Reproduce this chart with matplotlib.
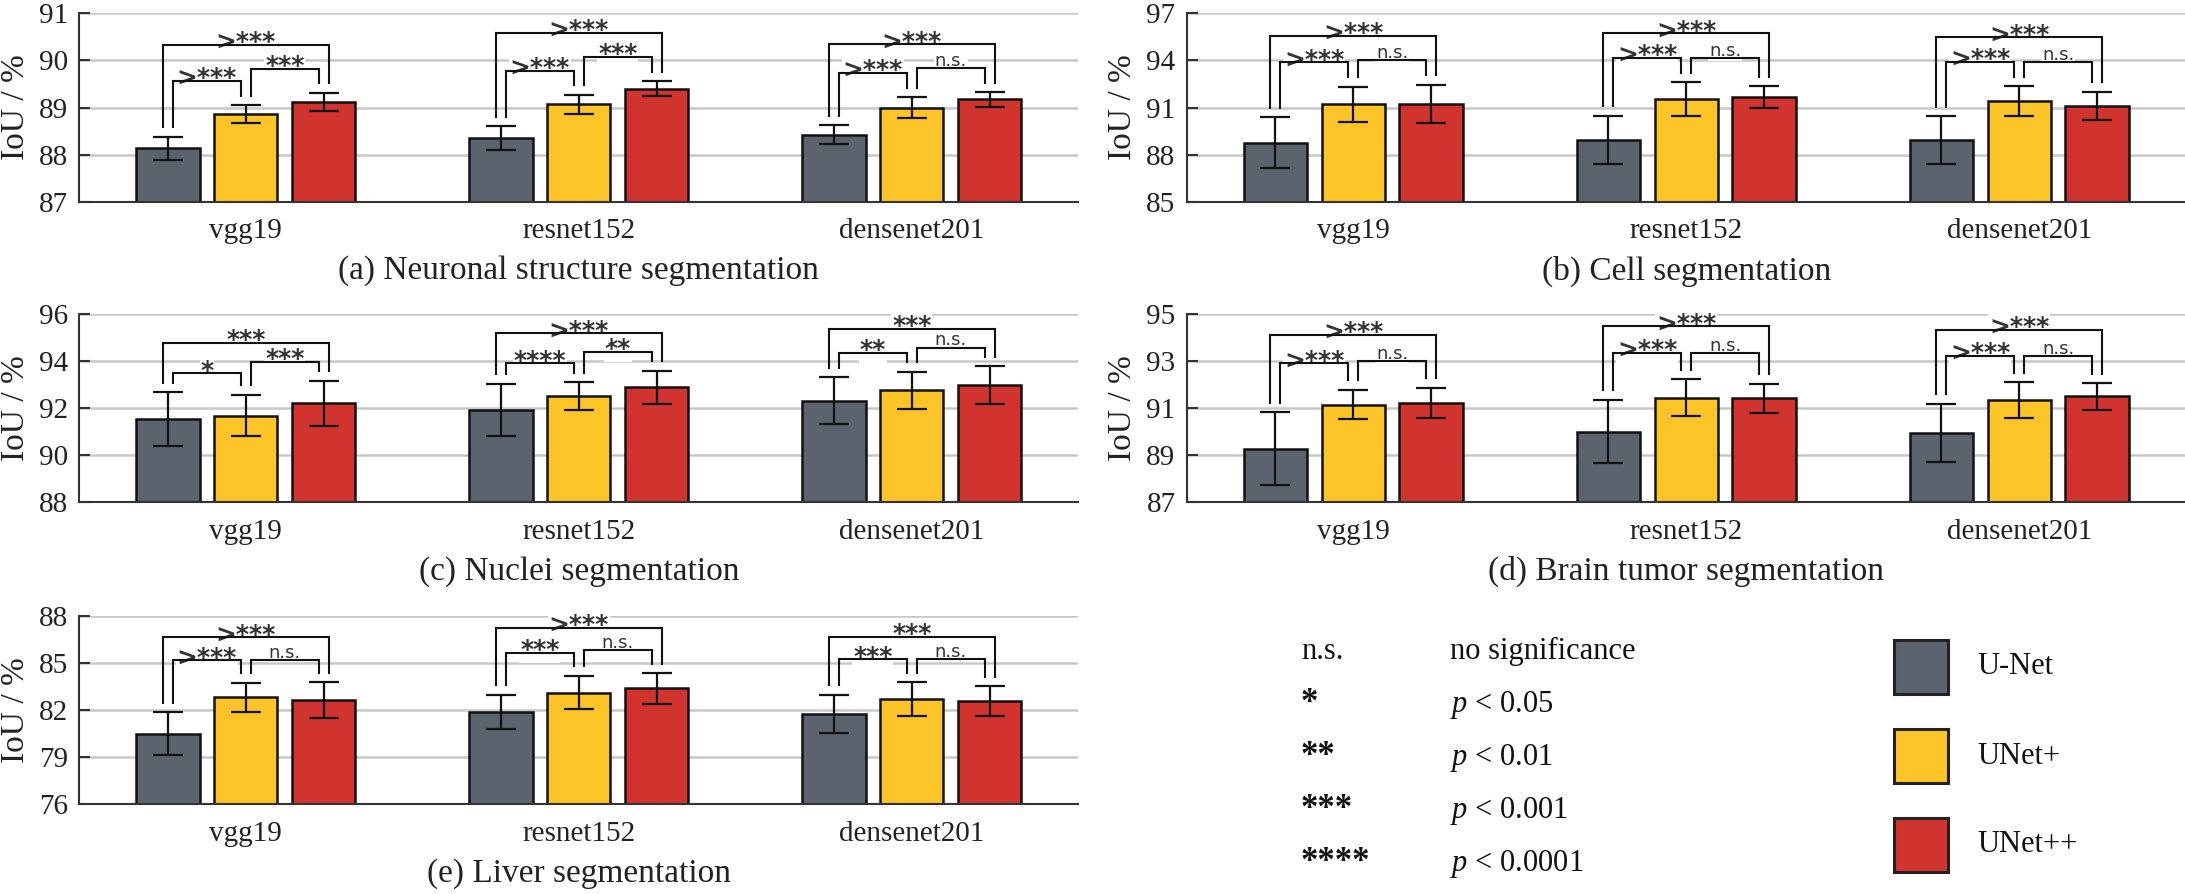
import numpy as np
import matplotlib
matplotlib.use("Agg")
from matplotlib import pyplot as plt
from matplotlib.patches import Rectangle

plt.rcParams['font.family'] = ['Liberation Serif', 'DejaVu Serif']
plt.rcParams['mathtext.fontset'] = 'custom'
plt.rcParams['mathtext.rm'] = 'Liberation Serif'
plt.rcParams['mathtext.it'] = 'Liberation Serif:italic'

backbones = ['vgg19', 'resnet152', 'densenet201']
models = ['U-Net', 'UNet+', 'UNet++']
colors = ['#5b636e', '#fcc426', '#d1342f']

# rows = backbone, columns = model (U-Net, UNet+, UNet++)
neuron_mean = [[88.13, 88.86, 89.12], [88.35, 89.07, 89.40], [88.42, 89.00, 89.17]]
neuron_std = [[0.25, 0.19, 0.19], [0.25, 0.20, 0.16], [0.20, 0.22, 0.15]]
neuron_sig = [['>***', '***', '>***'], ['>***', '***', '>***'], ['>***', 'n.s.', '>***']]

cell_mean = [[88.76, 91.20, 91.24], [88.93, 91.52, 91.65], [88.93, 91.41, 91.10]]
cell_std = [[1.62, 1.13, 1.20], [1.53, 1.08, 0.70], [1.50, 0.95, 0.90]]
cell_sig = [['>***', 'n.s.', '>***'], ['>***', 'n.s.', '>***'], ['>***', 'n.s.', '>***']]

nuclei_mean = [[91.52, 91.68, 92.21], [91.93, 92.52, 92.88], [92.31, 92.75, 92.97]]
nuclei_std = [[1.15, 0.88, 0.96], [1.10, 0.58, 0.70], [1.00, 0.80, 0.80]]
nuclei_sig = [['*', '***', '***'], ['****', '**', '>***'], ['**', 'n.s.', '***']]

brain_mean = [[89.27, 91.15, 91.22], [90.00, 91.45, 91.41], [89.95, 91.34, 91.50]]
brain_std = [[1.55, 0.63, 0.65], [1.35, 0.78, 0.62], [1.23, 0.75, 0.56]]
brain_sig = [['>***', 'n.s.', '>***'], ['>***', 'n.s.', '>***'], ['>***', 'n.s.', '>***']]

liver_mean = [[80.50, 82.81, 82.64], [81.89, 83.12, 83.38], [81.74, 82.72, 82.57]]
liver_std = [[1.38, 0.92, 1.12], [1.10, 1.07, 0.98], [1.23, 1.07, 0.96]]
liver_sig = [['>***', 'n.s.', '>***'], ['***', 'n.s.', '>***'], ['***', 'n.s.', '***']]

titles = ['(a) Neuronal structure segmentation', '(b) Cell segmentation',
          '(c) Nuclei segmentation', '(d) Brain tumor segmentation',
          '(e) Liver segmentation']
y_ranges = [(87, 91, 1), (85, 97, 3), (88, 96, 2), (87, 95, 2), (76, 88, 3)]

sig_levels = ['n.s.', '*', '**', '***', '****']
sig_meaning = ['no significance', '$p$ < 0.05', '$p$ < 0.01', '$p$ < 0.001', '$p$ < 0.0001']

FW, FH = 2185, 894


def bracket(ax, x0, x1, b0, b1, y, label):
    ax.plot([x0, x0, x1, x1], [b0, y, y, b1], color='#111111', lw=1.5, zorder=5,
            solid_capstyle='butt', solid_joinstyle='miter')
    if label == 'n.s.':
        kw = dict(fontsize=13, family='DejaVu Sans', xytext=(0, 1.5))
    else:
        kw = dict(fontsize=18, family='DejaVu Sans', fontweight='bold', xytext=(0, -3))
    ax.annotate(label, ((x0 + x1) / 2, y), textcoords='offset points', ha='center',
                va='baseline', color='#333333', zorder=4,
                bbox=dict(fc='white', ec='none', pad=0.5), **kw)


def draw_panel(ax, means, stds, sigs, yr, title, gap):
    means = np.array(means)
    stds = np.array(stds)
    x = np.arange(1, 4)
    offs = np.array([-1, 0, 1]) * 0.234
    for j in range(3):
        ax.bar(x + offs[j], means[:, j], width=0.19, color=colors[j],
               edgecolor='#111111', linewidth=1.8, zorder=2)
        ax.errorbar(x + offs[j], means[:, j], yerr=stds[:, j], fmt='none',
                    ecolor='#111111', elinewidth=1.6, capsize=11, capthick=1.6, zorder=3)

    ymin, ymax, step = yr
    span = ymax - ymin
    leg = 0.045 * span
    d = 0.015
    tops = means + stds
    for i in range(3):
        xs = x[i] + offs
        t = tops[i]
        y1 = max(t[0], t[1]) + gap * span
        y2 = max(t[1], t[2]) + gap * span
        y3 = max(y1, y2) + gap * span
        bracket(ax, xs[0] + d, xs[1] - d, t[0] + leg, t[1] + leg, y1, sigs[i][0])
        bracket(ax, xs[1] + d, xs[2] - d, t[1] + leg, t[2] + leg, y2, sigs[i][1])
        bracket(ax, xs[0] - d, xs[2] + d, t[0] + leg, t[2] + leg, y3, sigs[i][2])

    ax.set_xlim(0.5, 3.5)
    ax.set_ylim(ymin, ymax)
    ax.set_yticks(np.arange(ymin, ymax + 0.01, step))
    ax.set_xticks(x)
    ax.set_xticklabels(backbones)
    ax.yaxis.grid(True, color='#c8c8c8', linewidth=1.8)
    ax.set_axisbelow(True)
    for s in ['top', 'right']:
        ax.spines[s].set_visible(False)
    for s in ['left', 'bottom']:
        ax.spines[s].set_color('#333333')
        ax.spines[s].set_linewidth(1.5)
    ax.tick_params(axis='y', direction='in', length=8, width=1.5, pad=8,
                   labelsize=21, color='#333333', labelcolor='#222222')
    ax.tick_params(axis='x', length=0, pad=12, labelsize=21, labelcolor='#222222')
    ax.set_ylabel('IoU / %', fontsize=24, labelpad=6, color='#222222')
    ax.set_xlabel(title, fontsize=24, labelpad=8, color='#222222')


fig = plt.figure(figsize=(FW / 100, FH / 100), dpi=100)

w = 999 / FW
h = 188.4 / FH
lefts = [79.3 / FW, 1186.7 / FW]
bottoms = [1 - 201.7 / FH, 1 - 502.3 / FH, 1 - 804.3 / FH]

panels = [(neuron_mean, neuron_std, neuron_sig), (cell_mean, cell_std, cell_sig),
          (nuclei_mean, nuclei_std, nuclei_sig), (brain_mean, brain_std, brain_sig),
          (liver_mean, liver_std, liver_sig)]
gaps = [0.128, 0.13, 0.10, 0.14, 0.12]

for k, (m, s, sg) in enumerate(panels):
    ax = fig.add_axes([lefts[k % 2], bottoms[k // 2], w, h])
    draw_panel(ax, m, s, sg, y_ranges[k], titles[k], gaps[k])

# significance legend
baselines = [659, 712, 765, 818, 871]
for lev, mean_txt, yb in zip(sig_levels, sig_meaning, baselines):
    if lev == 'n.s.':
        fig.text(1301 / FW, 1 - yb / FH, lev, fontsize=22, va='baseline', color='#111111')
    else:
        fig.text(1301 / FW, 1 - yb / FH, lev, fontsize=25, fontweight='bold',
                 va='baseline', color='#111111')
    fig.text(1450 / FW, 1 - yb / FH, mean_txt, fontsize=22, va='baseline', color='#111111')

# model legend
sq_tops = [640, 729, 818]
for name, c, yt in zip(models, colors, sq_tops):
    fig.patches.append(Rectangle((1894 / FW, 1 - (yt + 54) / FH), 54 / FW, 54 / FH,
                                 transform=fig.transFigure, facecolor=c,
                                 edgecolor='#222222', linewidth=2.2))
    fig.text(1977 / FW, 1 - (yt + 27) / FH, name, fontsize=22, va='center', color='#111111')

fig.savefig('out.png', dpi=100)
